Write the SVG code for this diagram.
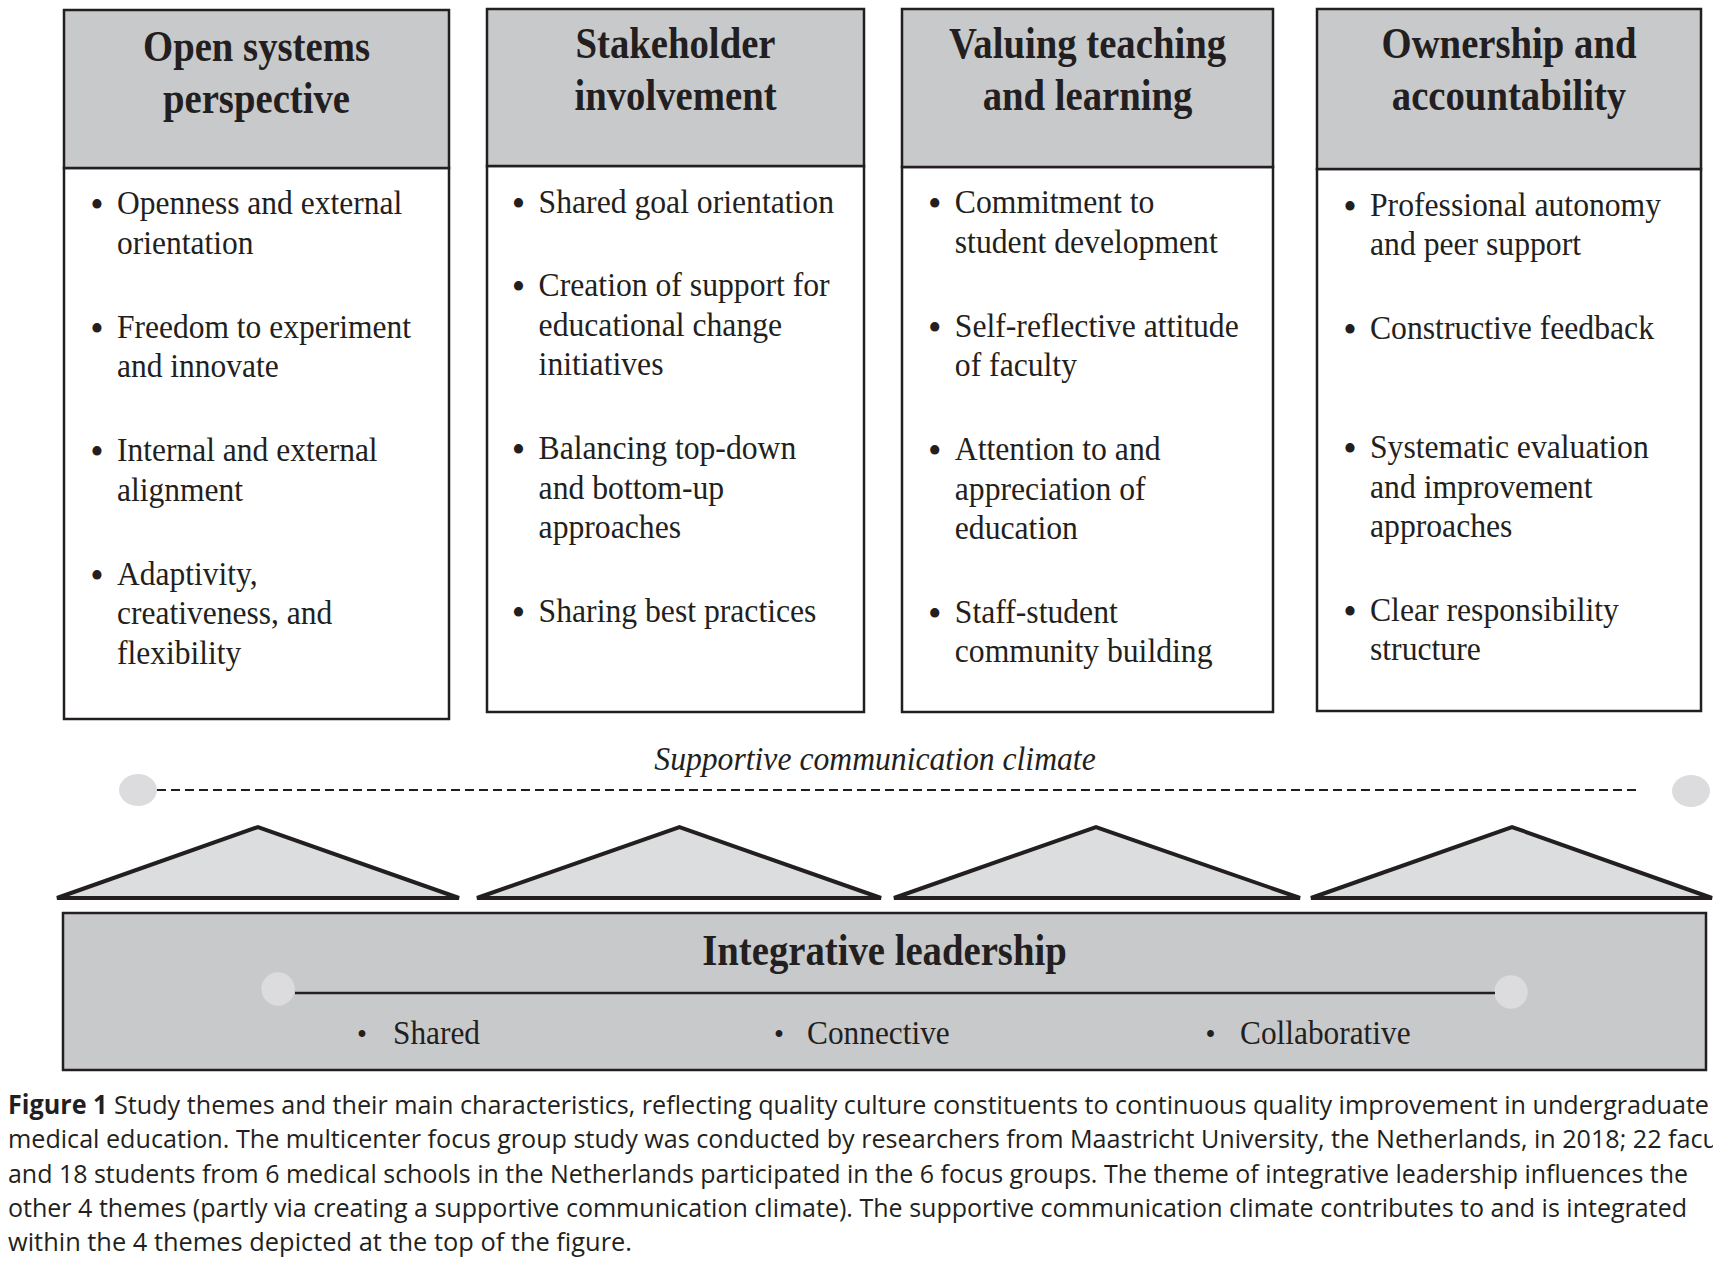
<svg xmlns="http://www.w3.org/2000/svg" width="1713" height="1267" viewBox="0 0 1713 1267">
<style>
.hdr{fill:#c8c9cb;stroke:#231f20;stroke-width:2.5}
.body{fill:#ffffff;stroke:#231f20;stroke-width:2.5}
.ht{font-family:"Liberation Serif","Times New Roman",serif;font-weight:bold;font-size:44px;fill:#231f20;text-anchor:middle}
.bt{font-family:"Liberation Serif","Times New Roman",serif;font-size:33px;fill:#231f20}
.bu{font-family:"Liberation Serif","Times New Roman",serif;font-size:40px;fill:#231f20;text-anchor:middle}
.bs{font-family:"Liberation Serif","Times New Roman",serif;font-size:30px;fill:#231f20;text-anchor:middle}
.it{font-family:"Liberation Serif","Times New Roman",serif;font-style:italic;font-size:33px;fill:#231f20;text-anchor:middle}
.tri{fill:#dcdddf;stroke:#231f20;stroke-width:4;stroke-linejoin:miter}
.dot{fill:#dcdcde}
.cap{font-family:"Open Sans","Noto Sans",sans-serif;font-size:26px;fill:#231f20}
</style>
<rect width="1713" height="1267" fill="#ffffff"/>

<g id="open-systems">
<rect class="body" x="64" y="168" width="385" height="551"/>
<rect class="hdr" x="64" y="10" width="385" height="158"/>
<text class="ht" transform="translate(256.5,61) scale(0.88,1)">Open systems</text>
<text class="ht" transform="translate(256.5,113) scale(0.88,1)">perspective</text>
<g transform="translate(117,4.4) scale(0.955,1)">
<text class="bu" x="-21" y="214">•</text><text class="bt" x="0" y="210">Openness and external</text>
<text class="bt" x="0" y="249.5">orientation</text>
<text class="bu" x="-21" y="338">•</text><text class="bt" x="0" y="334">Freedom to experiment</text>
<text class="bt" x="0" y="373">and innovate</text>
<text class="bu" x="-21" y="461">•</text><text class="bt" x="0" y="457">Internal and external</text>
<text class="bt" x="0" y="496.4">alignment</text>
<text class="bu" x="-21" y="584.6">•</text><text class="bt" x="0" y="580.6">Adaptivity,</text>
<text class="bt" x="0" y="620">creativeness, and</text>
<text class="bt" x="0" y="659.2">flexibility</text>
</g>
</g>

<g id="stakeholder">
<rect class="body" x="487" y="166" width="377" height="546"/>
<rect class="hdr" x="487" y="9" width="377" height="157"/>
<text class="ht" transform="translate(675.5,58) scale(0.88,1)">Stakeholder</text>
<text class="ht" transform="translate(675.5,110) scale(0.88,1)">involvement</text>
<g transform="translate(538.6,4.4) scale(0.96,1)">
<text class="bu" x="-21" y="212.5">•</text><text class="bt" x="0" y="208.5">Shared goal orientation</text>
<text class="bu" x="-21" y="296.1">•</text><text class="bt" x="0" y="292.1">Creation of support for</text>
<text class="bt" x="0" y="331.5">educational change</text>
<text class="bt" x="0" y="370.8">initiatives</text>
<text class="bu" x="-21" y="458.9">•</text><text class="bt" x="0" y="454.9">Balancing top-down</text>
<text class="bt" x="0" y="494.3">and bottom-up</text>
<text class="bt" x="0" y="533.6">approaches</text>
<text class="bu" x="-21" y="621.7">•</text><text class="bt" x="0" y="617.7">Sharing best practices</text>
</g>
</g>

<g id="valuing">
<rect class="body" x="902" y="167" width="371" height="545"/>
<rect class="hdr" x="902" y="9" width="371" height="158"/>
<text class="ht" transform="translate(1087.5,58) scale(0.88,1)">Valuing teaching</text>
<text class="ht" transform="translate(1087.5,110) scale(0.88,1)">and learning</text>
<g transform="translate(954.8,4.4) scale(0.96,1)">
<text class="bu" x="-21" y="213.1">•</text><text class="bt" x="0" y="209.1">Commitment to</text>
<text class="bt" x="0" y="248.4">student development</text>
<text class="bu" x="-21" y="336.6">•</text><text class="bt" x="0" y="332.6">Self-reflective attitude</text>
<text class="bt" x="0" y="371.9">of faculty</text>
<text class="bu" x="-21" y="460">•</text><text class="bt" x="0" y="456">Attention to and</text>
<text class="bt" x="0" y="495.3">appreciation of</text>
<text class="bt" x="0" y="534.7">education</text>
<text class="bu" x="-21" y="622.8">•</text><text class="bt" x="0" y="618.8">Staff-student</text>
<text class="bt" x="0" y="658.1">community building</text>
</g>
</g>

<g id="ownership">
<rect class="body" x="1317" y="169" width="384" height="542"/>
<rect class="hdr" x="1317" y="9" width="384" height="160"/>
<text class="ht" transform="translate(1509,58) scale(0.88,1)">Ownership and</text>
<text class="ht" transform="translate(1509,110) scale(0.88,1)">accountability</text>
<g transform="translate(1370,4.4) scale(0.96,1)">
<text class="bu" x="-21" y="215.3">•</text><text class="bt" x="0" y="211.3">Professional autonomy</text>
<text class="bt" x="0" y="250.6">and peer support</text>
<text class="bu" x="-21" y="338.8">•</text><text class="bt" x="0" y="334.8">Constructive feedback</text>
<text class="bu" x="-21" y="457.8">•</text><text class="bt" x="0" y="453.8">Systematic evaluation</text>
<text class="bt" x="0" y="493.2">and improvement</text>
<text class="bt" x="0" y="532.5">approaches</text>
<text class="bu" x="-21" y="620.6">•</text><text class="bt" x="0" y="616.6">Clear responsibility</text>
<text class="bt" x="0" y="656">structure</text>
</g>
</g>

<g id="supportive-climate">
<text class="it" transform="translate(875,770) scale(0.96,1)">Supportive communication climate</text>
<ellipse class="dot" cx="138" cy="790" rx="19" ry="16"/>
<ellipse class="dot" cx="1691" cy="791" rx="19" ry="16"/>
</g>

<g id="triangles">
<polygon class="tri" points="57,898 258,827 459,898"/>
<polygon class="tri" points="477,898 679.5,827 881,898"/>
<polygon class="tri" points="894,898 1096,827 1300,898"/>
<polygon class="tri" points="1311,898 1512,827 1712,898"/>
</g>

<g id="integrative-leadership">
<rect x="63" y="913" width="1643" height="157" fill="#c8c9cb" stroke="#231f20" stroke-width="2.5"/>
<text class="ht" transform="translate(884.5,965) scale(0.88,1)">Integrative leadership</text>
<circle class="dot" cx="278" cy="989" r="16.7"/>
<circle class="dot" cx="1511" cy="992" r="16.7"/>
<text class="bs" transform="translate(362,1044) scale(0.95,1)">•</text>
<text class="bt" transform="translate(393,1044) scale(0.95,1)">Shared</text>
<text class="bs" transform="translate(779,1044) scale(0.95,1)">•</text>
<text class="bt" transform="translate(807,1044) scale(0.95,1)">Connective</text>
<text class="bs" transform="translate(1210.5,1044) scale(0.95,1)">•</text>
<text class="bt" transform="translate(1240,1044) scale(0.95,1)">Collaborative</text>
</g>

<g id="connectors">
<line x1="157" y1="790" x2="1638" y2="790" stroke="#231f20" stroke-width="2" stroke-dasharray="9,5"/>
<line x1="295" y1="993" x2="1495" y2="993" stroke="#231f20" stroke-width="2.5"/>
</g>

<g id="caption">
<text class="cap" x="8" y="1114" textLength="1701" lengthAdjust="spacingAndGlyphs"><tspan font-weight="bold">Figure 1</tspan> Study themes and their main characteristics, reflecting quality culture constituents to continuous quality improvement in undergraduate</text>
<text class="cap" x="8" y="1148" textLength="1710" lengthAdjust="spacingAndGlyphs">medical education. The multicenter focus group study was conducted by researchers from Maastricht University, the Netherlands, in 2018; 22 facu</text>
<text class="cap" x="8" y="1182.5" textLength="1680" lengthAdjust="spacingAndGlyphs">and 18 students from 6 medical schools in the Netherlands participated in the 6 focus groups. The theme of integrative leadership influences the</text>
<text class="cap" x="8" y="1216.5" textLength="1679" lengthAdjust="spacingAndGlyphs">other 4 themes (partly via creating a supportive communication climate). The supportive communication climate contributes to and is integrated</text>
<text class="cap" x="8" y="1251" textLength="624" lengthAdjust="spacingAndGlyphs">within the 4 themes depicted at the top of the figure.</text>
</g>
</svg>
